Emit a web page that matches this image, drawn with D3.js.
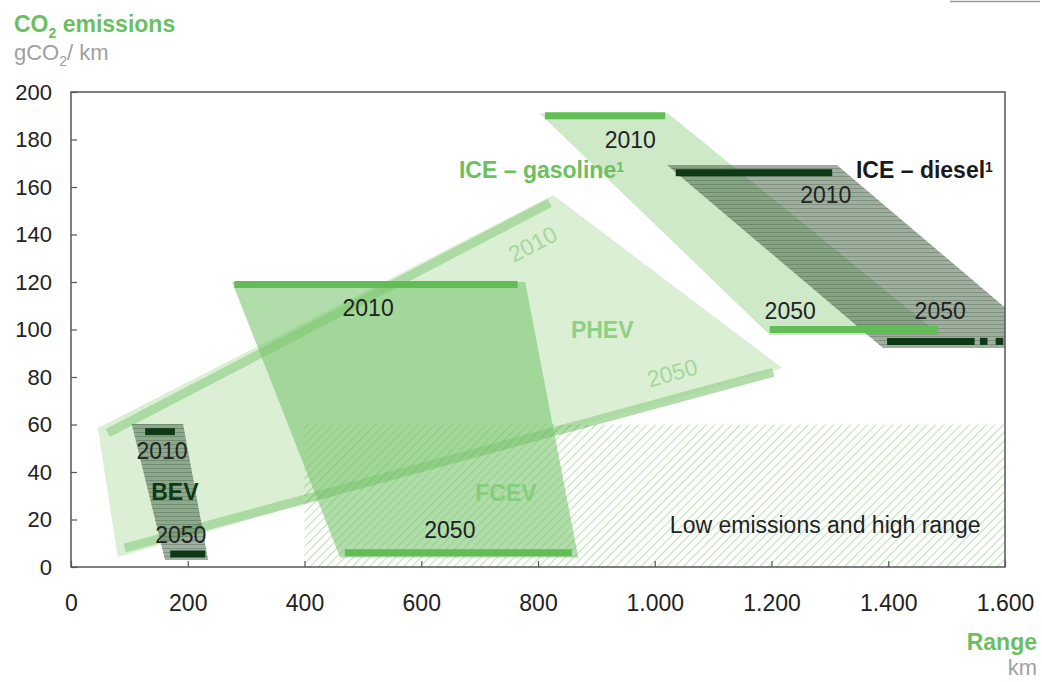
<!DOCTYPE html>
<html>
<head>
<meta charset="utf-8">
<script src="https://cdn.jsdelivr.net/npm/d3@7"></script>
<style>
  body { margin: 0; background: #fff; font-family: "Liberation Sans", Arial, sans-serif; }
  .axis text { font-size: 22px; fill: #222; font-family: "Liberation Sans", Arial, sans-serif; }
  .axis path { display: none; }
  .axis line { stroke: #555; stroke-width: 1.2; }
  .lbl { font-size: 23px; fill: #222; }
</style>
</head>
<body>
<div id="chart"></div>
<script>
/*********************** data (km, gCO2/km) ***********************/
const xTicks = [0, 200, 400, 600, 800, 1000, 1200, 1400, 1600];
const yTicks = [0, 20, 40, 60, 80, 100, 120, 140, 160, 180, 200];

const phevArea = [[46, 58.5], [826, 156.6], [1218, 83.8], [80, 4.2]];
const phevLine2010 = [[63, 56.4], [820, 153.3]];
const phevLine2050 = [[92, 8], [1203, 82]];

const fcevArea = [[276, 120], [778, 120], [869, 4], [461, 4]];
const fcevBars = [[280, 765, 119], [469, 858, 6]];

const gasolineArea = [[803, 191], [1023, 191], [1489, 97.7], [1197, 97.7]];
const gasolineBars = [[812, 1018, 190], [1197, 1485, 100]];

const dieselArea = [[1021, 169.3], [1312, 169.3], [1682, 92.2], [1391, 92.2]];
const dieselBars = [[1036, 1304, 166], [1398, 1548, 95], [1557, 1570, 95], [1584, 1597, 95]];

const bevArea = [[104, 60.2], [192, 60.2], [235, 3], [161, 3]];
const bevBars = [[127, 178, 57], [170, 230, 5.5]];

const lowZone = [400, 1600, 0, 60];

/*********************** layout ***********************/
const svgWidth = 1042;
const svgHeight = 682;
const margin = { top: 92, right: 37, bottom: 115, left: 71 };
const width = svgWidth - margin.left - margin.right;
const height = svgHeight - margin.top - margin.bottom;

const svg = d3.select("#chart")
  .append("svg")
  .attr("width", svgWidth)
  .attr("height", svgHeight);

const defs = svg.append("defs");

defs.append("clipPath").attr("id", "plotClip")
  .append("rect").attr("width", width).attr("height", height);

// diagonal hatch for the low-emission zone
const hatch = defs.append("pattern")
  .attr("id", "hatch")
  .attr("patternUnits", "userSpaceOnUse")
  .attr("width", 6).attr("height", 6)
  .attr("patternTransform", "rotate(45)");
hatch.append("rect").attr("width", 6).attr("height", 6).attr("fill", "#fff");
hatch.append("line")
  .attr("x1", 0).attr("y1", 0).attr("x2", 0).attr("y2", 6)
  .attr("stroke", "#b9dfb2").attr("stroke-width", 2.2);

// fine horizontal lines for the diesel area
const grid = defs.append("pattern")
  .attr("id", "grid")
  .attr("patternUnits", "userSpaceOnUse")
  .attr("width", 4).attr("height", 4);
grid.append("line")
  .attr("x1", 0).attr("y1", 0.5).attr("x2", 4).attr("y2", 0.5)
  .attr("stroke", "#2f432f").attr("stroke-width", 0.8).attr("stroke-opacity", 0.35);

const g = svg.append("g")
  .attr("transform", `translate(${margin.left},${margin.top})`);

const x = d3.scaleLinear().domain([0, 1600]).range([0, width]);
const y = d3.scaleLinear().domain([0, 200]).range([height, 0]);

const locale = d3.formatLocale({ decimal: ",", thousands: ".", grouping: [3], currency: ["", "€"] });
const fmt = locale.format(",");

const plot = g.append("g").attr("clip-path", "url(#plotClip)");
const line = d3.line().x(d => x(d[0])).y(d => y(d[1]));
const area = pts => line(pts) + "Z";

/*********************** shapes ***********************/
// PHEV
plot.append("path").attr("d", area(phevArea))
  .attr("fill", "#cde9c6").attr("fill-opacity", 0.75);
[phevLine2010, phevLine2050].forEach(l => {
  plot.append("path").attr("d", line(l))
    .attr("stroke", "#9fd495").attr("stroke-opacity", 0.8)
    .attr("stroke-width", 9).attr("fill", "none");
});

// low emissions & high range zone
plot.append("rect")
  .attr("x", x(lowZone[0])).attr("width", x(lowZone[1]) - x(lowZone[0]))
  .attr("y", y(lowZone[3])).attr("height", y(lowZone[2]) - y(lowZone[3]))
  .attr("fill", "url(#hatch)").attr("fill-opacity", 0.9)
  .style("mix-blend-mode", "multiply");

// FCEV
plot.append("path").attr("d", area(fcevArea))
  .attr("fill", "#7cc770").attr("fill-opacity", 0.6);

// ICE gasoline
plot.append("path").attr("d", area(gasolineArea))
  .attr("fill", "#b8e0b0").attr("fill-opacity", 0.7);

// ICE diesel
plot.append("path").attr("d", area(dieselArea))
  .attr("fill", "#3f5f3f").attr("fill-opacity", 0.5);
plot.append("path").attr("d", area(dieselArea))
  .attr("fill", "url(#grid)");

// BEV
plot.append("path").attr("d", area(bevArea))
  .attr("fill", "#4f6f4f").attr("fill-opacity", 0.55);
plot.append("path").attr("d", area(bevArea))
  .attr("fill", "url(#grid)");

/*********************** bars ***********************/
function drawBars(bars, color) {
  plot.selectAll(null)
    .data(bars)
    .enter()
    .append("line")
    .attr("x1", d => x(d[0]))
    .attr("x2", d => x(d[1]))
    .attr("y1", d => y(d[2]))
    .attr("y2", d => y(d[2]))
    .attr("stroke", color)
    .attr("stroke-width", 7);
}
drawBars(fcevBars, "#62bd56");
drawBars(gasolineBars, "#62bd56");
drawBars(dieselBars, "#0d3a14");
drawBars(bevBars, "#0d3a14");

/*********************** frame & axes ***********************/
g.append("rect")
  .attr("width", width).attr("height", height)
  .attr("fill", "none").attr("stroke", "#555").attr("stroke-width", 1.5);

const xAxis = g.append("g")
  .attr("class", "axis")
  .attr("transform", `translate(0,${height})`)
  .call(d3.axisBottom(x).tickValues(xTicks).tickFormat(fmt).tickSizeInner(-6).tickPadding(28));
xAxis.selectAll("text").style("font-size", "23px");

g.append("g")
  .attr("class", "axis")
  .call(d3.axisLeft(y).tickValues(yTicks).tickSizeInner(-6).tickPadding(19));

/*********************** labels ***********************/
function label(text, dx, dy, opts = {}) {
  const t = g.append("text")
    .attr("class", "lbl")
    .attr("x", x(dx)).attr("y", y(dy))
    .attr("dy", "0.35em")
    .attr("text-anchor", opts.anchor || "middle")
    .style("fill", opts.color || "#222")
    .style("font-weight", opts.bold ? "bold" : "normal");
  if (opts.rotate) t.attr("transform", `rotate(${opts.rotate},${x(dx)},${y(dy)})`);
  t.text(text);
  if (opts.sup) {
    t.append("tspan").attr("dy", "-0.45em").style("font-size", "14px").text(opts.sup);
  }
  return t;
}

label("2010", 509, 109);
label("2050", 649, 15.6);
label("FCEV", 745, 31, { color: "#86cd7b", bold: true });

label("2010", 958, 180);
label("2050", 1232, 108);
label("ICE – gasoline", 806, 167, { color: "#6cc060", bold: true, sup: "1" });

label("2010", 1293, 156.6);
label("2050", 1489, 108);
label("ICE – diesel", 1462, 167, { color: "#1a1a1a", bold: true, sup: "1" });

label("2010", 156, 49);
label("BEV", 178, 31.6, { color: "#0d3a14", bold: true });
label("2050", 188, 13.5);

label("PHEV", 910, 100, { color: "#8fd184", bold: true });
label("2010", 791, 136, { color: "#a6d89c", rotate: -27.5 });
label("2050", 1030, 81.7, { color: "#a6d89c", rotate: -15.2 });

label("Low emissions and high range", 1292, 17.7);

// axis titles
const title = svg.append("text").attr("x", 14).attr("y", 32)
  .style("font-size", "23px").style("font-weight", "bold").style("fill", "#6cbf60");
title.append("tspan").text("CO");
title.append("tspan").attr("dy", 6).style("font-size", "14px").text("2");
title.append("tspan").attr("dy", -6).text(" emissions");

const unit = svg.append("text").attr("x", 14).attr("y", 60)
  .style("font-size", "22px").style("fill", "#a0a0a0");
unit.append("tspan").text("gCO");
unit.append("tspan").attr("dy", 6).style("font-size", "14px").text("2");
unit.append("tspan").attr("dy", -6).text("/ km");

svg.append("text").attr("x", 1037).attr("y", 650)
  .attr("text-anchor", "end")
  .style("font-size", "23px").style("font-weight", "bold").style("fill", "#6cbf60")
  .text("Range");
svg.append("text").attr("x", 1037).attr("y", 675)
  .attr("text-anchor", "end")
  .style("font-size", "22px").style("fill", "#a0a0a0")
  .text("km");

// small rule at top-right corner
svg.append("line")
  .attr("x1", 950).attr("x2", 1040).attr("y1", 1.5).attr("y2", 1.5)
  .attr("stroke", "#999").attr("stroke-width", 1.5);
</script>
</body>
</html>
